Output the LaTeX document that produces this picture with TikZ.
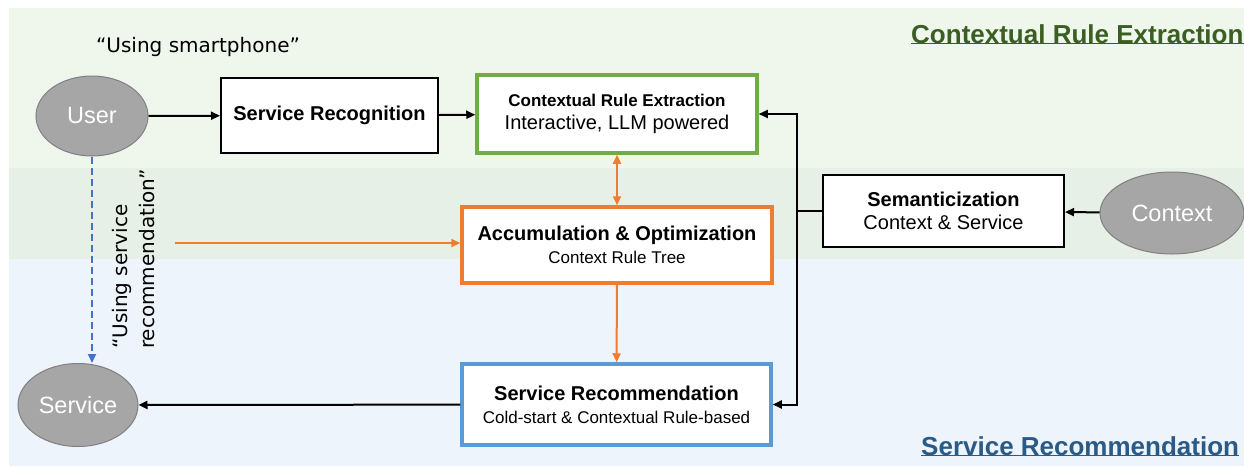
\documentclass[tikz,border=0pt]{standalone}
\usepackage{fontspec}
\setmainfont{Liberation Sans}
\newfontfamily\handfont{DejaVu Sans}
\usepackage{tikz}
\usetikzlibrary{shapes.geometric,arrows.meta}

\definecolor{bgtop}{HTML}{EFF6EC}
\definecolor{bgmid}{HTML}{E6F0E6}
\definecolor{bgbot}{HTML}{EDF4FB}
\definecolor{ruleGreen}{HTML}{70AD47}
\definecolor{accOrange}{HTML}{ED7D31}
\definecolor{recBlue}{HTML}{5B9BD5}
\definecolor{dashBlue}{HTML}{4472C4}
\definecolor{titleGreen}{HTML}{3B5E22}
\definecolor{titleBlue}{HTML}{2A5A86}
\definecolor{actorFill}{HTML}{A6A6A6}
\definecolor{actorLine}{HTML}{808080}

\begin{document}
\begin{tikzpicture}[x=1pt,y=-1pt,
    box/.style={draw, fill=white, line width=2pt, align=center, inner sep=0pt,
      font=\fontsize{20}{23}\selectfont},
    actor/.style={ellipse, draw=actorLine, fill=actorFill, line width=1pt, inner sep=0pt,
      text=white, font=\fontsize{23.5}{26}\selectfont},
    arr/.style={line width=2pt, -{Triangle[length=9pt,width=8pt]}},
    oarr/.style={draw=accOrange, line width=2pt, -{Triangle[length=9pt,width=8pt]}},
    title/.style={inner sep=0pt, anchor=base west, font=\fontsize{26}{30}\selectfont\bfseries},
    hand/.style={font=\handfont\fontsize{20}{27}\selectfont}]
  \useasboundingbox (0,0) rectangle (1244,466);
  % bands
  \fill[bgtop] (9,8) rectangle (1244,168);
  \fill[bgmid] (9,168) rectangle (1244,259);
  \fill[bgbot] (9,259) rectangle (1244,466);

  \node[title, text=titleGreen] (t1) at (911,43) {Contextual Rule Extraction};
  \draw[titleGreen, line width=1.5pt] (t1.south west) -- (t1.south east);
  \node[title, text=titleBlue] (t2) at (921,455) {Service Recommendation};
  \draw[titleBlue, line width=1.5pt] (t2.south west) -- (t2.south east);

  % actors
  \node[actor, minimum width=112pt, minimum height=80pt] (user) at (92,116) {User};
  \node[actor, minimum width=120pt, minimum height=83pt] (service) at (78,405) {Service};
  \node[actor, minimum width=144pt, minimum height=82pt] (context) at (1172,213) {Context};

  % boxes
  \node[box, minimum width=217pt, minimum height=75pt] (recog) at (329.5,115.5)
    {\textbf{Service Recognition}};
  \node[box, draw=ruleGreen, line width=3.5pt, minimum width=280pt, minimum height=78pt] (extract) at (617,114)
    {{\fontsize{17}{20}\selectfont\bfseries Contextual Rule Extraction}\\Interactive, LLM powered};
  \node[box, draw=accOrange, line width=3.5pt, minimum width=310pt, minimum height=76pt] (accum) at (617,245)
    {\textbf{Accumulation \& Optimization}\\{\fontsize{17}{20}\selectfont Context Rule Tree}};
  \node[box, minimum width=241pt, minimum height=72pt] (seman) at (943.5,211)
    {\textbf{Semanticization}\\Context \& Service};
  \node[box, draw=recBlue, line width=3.5pt, minimum width=309pt, minimum height=81pt] (recom) at (616.5,404.5)
    {\textbf{Service Recommendation}\\{\fontsize{17}{20}\selectfont Cold-start \& Contextual Rule-based}};

  \node[hand] (smart) at (198,47) {“Using smartphone”};
  \node[hand, rotate=90, align=left] (usingrec) at (134,259) {“Using service\\recommendation”};

  % connectors
  \draw[arr] (user) -- (recog);
  \draw[arr] (recog) -- (extract);
  \draw[arr] (context) -- (seman);
  \coordinate (split) at (797,211);
  \draw[line width=2pt] (seman) -- (split);
  \draw[arr] (split) |- (extract);
  \draw[arr] (split) |- (recom);
  \draw[arr] (recom) -- (service);
  \draw[oarr, {Triangle[length=9pt,width=8pt]}-{Triangle[length=9pt,width=8pt]}] (extract) -- (accum);
  \draw[oarr] (accum) -- (recom);
  \coordinate (feed) at (175,243);
  \draw[oarr] (feed) -- (feed -| accum.west);
  \draw[dashBlue, line width=2pt, dash pattern=on 7pt off 4pt, -{Triangle[length=9pt,width=8pt]}]
    (user) -- (user |- service.north);
\end{tikzpicture}
\end{document}
